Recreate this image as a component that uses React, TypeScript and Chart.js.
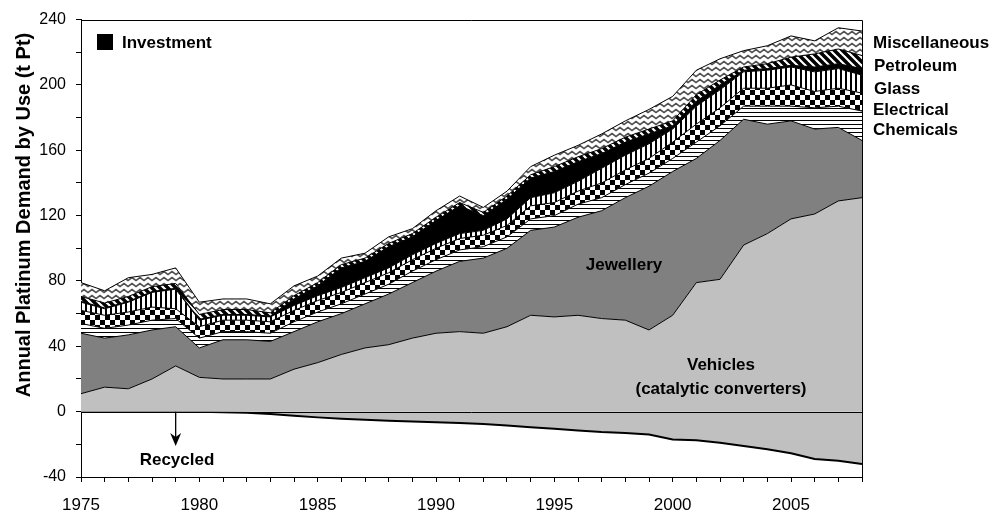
import React, { useEffect, useRef } from 'react';
import { Chart, registerables } from 'chart.js';

Chart.register(...registerables);

const years = [1975,1976,1977,1978,1979,1980,1981,1982,1983,1984,1985,1986,1987,1988,1989,1990,1991,1992,1993,1994,1995,1996,1997,1998,1999,2000,2001,2002,2003,2004,2005,2006,2007,2008];
const tickYears = [1975,1980,1985,1990,1995,2000,2005];
const yLabelValues = [-40,0,40,80,120,160,200,240];

const vehicles = [11,15,14,20,28,21,20,20,20,26,30,35,39,41,45,48,49,48,52,59,58,59,57,56,50,59,79,81,102,109,118,121,129,131];
const jewellery = [37,30,33,30,24,18,24,24,23,23,25,25,27,31,34,38,43,46,48,52,55,60,66,75,88,88,76,85,77,67,60,52,45,35];
const chemicals = [6,6,6,6,5,6,5,5,5,6,6,6,6,6,7,7,7,7,7,7,7,8,8,8,8,8,10,9,8,11,9,13,13,18];
const electrical = [8,8,8,8,6,7,7,7,7,7,7,7,7,7,7,7,7,7,7,8,8,8,9,9,9,10,11,11,11,11,13,10,11,11];
const glass = [5,4,6,9,12,4,3,3,3,3,3,3,3,3,3,3,3,3,4,5,6,6,9,9,9,8,11,11,10,11,11,12,12,11];
const investment = [0.5,0.5,0.5,0.5,0.5,0.5,0.5,0.5,0.5,4,6,12,10,13,11,14,17,9,12,12,13,12,9,8,6,2,3,3,1,1,1,3,3,4];
const petroleum = [3,3,3,3,3,3,3,3,2,2,2,2,2,2,2,2,2,2,2,2,3,3,3,3,3,3,4,3,2,3,5,8,9,8];
const miscellaneous = [8.5,7.5,11.5,7.5,9.5,7.5,6.5,6.5,5.5,6,4,4,3,4,3,4,4,3,3,5,7,7,9,10,12,15,15,13,10,11,13,8,13,15];
const recycled = [0,0,0,0,0,0,-0.3,-0.7,-1.5,-2.5,-3.5,-4.3,-5,-5.5,-6,-6.5,-7,-7.5,-8.5,-9.5,-10.5,-11.5,-12.5,-13,-14,-17,-17.5,-19,-21,-23,-25.5,-29,-30,-32];

const FONT = '"Liberation Sans", Arial, Helvetica, sans-serif';

function makePattern(kind: string): CanvasPattern | string {
  const c = document.createElement('canvas');
  const g = c.getContext('2d');
  if (!g) return '#fff';
  if (kind === 'hlines') {
    c.width = 4; c.height = 4;
    g.fillStyle = '#fff'; g.fillRect(0, 0, 4, 4);
    g.fillStyle = '#000'; g.fillRect(0, 0, 4, 1);
  } else if (kind === 'checker') {
    c.width = 10; c.height = 10;
    g.fillStyle = '#fff'; g.fillRect(0, 0, 10, 10);
    g.fillStyle = '#000'; g.fillRect(0, 0, 5, 5); g.fillRect(5, 5, 5, 5);
  } else if (kind === 'vlines') {
    c.width = 5; c.height = 5;
    g.fillStyle = '#fff'; g.fillRect(0, 0, 5, 5);
    g.fillStyle = '#000'; g.fillRect(0, 0, 2, 5);
  } else if (kind === 'diag') {
    c.width = 8; c.height = 8;
    g.fillStyle = '#fff'; g.fillRect(0, 0, 8, 8);
    g.strokeStyle = '#000'; g.lineWidth = 3.5;
    for (const o of [-8, 0, 8]) {
      g.beginPath(); g.moveTo(o - 1, -1); g.lineTo(o + 9, 9); g.stroke();
    }
  } else if (kind === 'zigzag') {
    c.width = 8; c.height = 6;
    g.fillStyle = '#fff'; g.fillRect(0, 0, 8, 6);
    g.strokeStyle = '#505050'; g.lineWidth = 1.6;
    g.beginPath(); g.moveTo(-2, 3); g.lineTo(0, 4.5); g.lineTo(4, 1.5); g.lineTo(8, 4.5); g.lineTo(10, 3); g.stroke();
  }
  const p = g.createPattern(c, 'repeat');
  return p || '#fff';
}

const annotations = {
  id: 'annotations',
  afterDatasetsDraw(chart: any) {
    const { ctx, chartArea: a, scales } = chart;
    const y0 = scales.y.getPixelForValue(0);
    ctx.save();
    ctx.strokeStyle = '#000';
    ctx.lineWidth = 1;
    ctx.beginPath();
    ctx.moveTo(a.left, Math.round(y0) + 0.5);
    ctx.lineTo(a.right, Math.round(y0) + 0.5);
    ctx.stroke();
    ctx.beginPath();
    ctx.moveTo(a.left, Math.round(a.top) + 0.5);
    ctx.lineTo(Math.round(a.right) + 0.5, Math.round(a.top) + 0.5);
    ctx.lineTo(Math.round(a.right) + 0.5, a.bottom);
    ctx.stroke();

    ctx.fillStyle = '#000';
    ctx.textBaseline = 'middle';
    ctx.font = 'bold 17px ' + FONT;
    ctx.textAlign = 'left';
    ctx.fillText('Miscellaneous', 873, 43);
    ctx.fillText('Petroleum', 874, 66);
    ctx.fillText('Glass', 874, 89);
    ctx.fillText('Electrical', 873, 110);
    ctx.fillText('Chemicals', 873, 130);

    ctx.fillRect(97, 34, 16, 16);
    ctx.fillText('Investment', 122, 43);

    ctx.textAlign = 'center';
    ctx.fillText('Jewellery', 624, 265);
    ctx.fillText('Vehicles', 721, 365);
    ctx.fillText('(catalytic converters)', 721, 389);
    ctx.fillText('Recycled', 177, 460);

    const ax = scales.x.getPixelForValue(4);
    ctx.lineWidth = 1.3;
    ctx.beginPath();
    ctx.moveTo(ax, y0);
    ctx.lineTo(ax, 440);
    ctx.stroke();
    ctx.beginPath();
    ctx.moveTo(ax, 446);
    ctx.lineTo(ax - 5.5, 433);
    ctx.lineTo(ax, 437);
    ctx.lineTo(ax + 5.5, 433);
    ctx.closePath();
    ctx.fill();

    ctx.translate(24, 215);
    ctx.rotate(-Math.PI / 2);
    ctx.font = 'bold 20px ' + FONT;
    ctx.textAlign = 'center';
    ctx.fillText('Annual Platinum Demand by Use (t Pt)', 0, 0);
    ctx.restore();
  },
};

export default function App() {
  const ref = useRef<HTMLCanvasElement>(null);
  useEffect(() => {
    if (!ref.current) return;
    const base = { borderColor: '#000', borderWidth: 1, pointRadius: 0, tension: 0 };
    const chart = new Chart(ref.current, {
      type: 'line',
      data: {
        labels: years.map(String),
        datasets: [
          { ...base, label: 'Vehicles', data: vehicles, backgroundColor: '#c0c0c0', fill: 'origin' },
          { ...base, label: 'Jewellery', data: jewellery, backgroundColor: '#808080', fill: '-1' },
          { ...base, label: 'Chemicals', data: chemicals, backgroundColor: makePattern('hlines'), fill: '-1' },
          { ...base, label: 'Electrical', data: electrical, backgroundColor: makePattern('checker'), fill: '-1' },
          { ...base, label: 'Glass', data: glass, backgroundColor: makePattern('vlines'), fill: '-1' },
          { ...base, label: 'Investment', data: investment, backgroundColor: '#000', fill: '-1' },
          { ...base, label: 'Petroleum', data: petroleum, backgroundColor: makePattern('diag'), fill: '-1' },
          { ...base, label: 'Miscellaneous', data: miscellaneous, backgroundColor: makePattern('zigzag'), fill: '-1' },
          { ...base, label: 'Recycled', data: recycled, backgroundColor: '#c0c0c0', borderWidth: 2, fill: 'origin', stack: 'recycled' } as any,
        ] as any,
      },
      options: {
        responsive: false,
        animation: false,
        devicePixelRatio: 1,
        layout: { padding: { top: 17, right: 132, left: 0, bottom: 0 } },
        font: { family: FONT },
        plugins: { legend: { display: false }, tooltip: { enabled: false } },
        scales: {
          x: {
            type: 'category',
            offset: false,
            grid: { drawOnChartArea: false, offset: false, tickLength: 5, color: '#000', tickColor: '#000' },
            border: { color: '#000', width: 1 },
            ticks: {
              autoSkip: false,
              maxRotation: 0,
              padding: 13,
              color: '#000',
              font: { family: FONT, size: 17 },
              callback: (_v: any, i: number) => (tickYears.includes(years[i]) ? String(years[i]) : ''),
            },
            afterFit: (s: any) => { s.height = 39; },
          },
          y: {
            stacked: true,
            min: -40,
            max: 240,
            grid: { drawOnChartArea: false, tickLength: 5, color: '#000', tickColor: '#000' },
            border: { color: '#000', width: 1 },
            ticks: {
              stepSize: 20,
              autoSkip: false,
              padding: 10,
              color: '#000',
              font: { family: FONT, size: 16 },
              callback: (v: any) => (yLabelValues.includes(Number(v)) ? String(v) : ''),
            },
            afterFit: (s: any) => { s.width = 81; },
          },
        },
      } as any,
      plugins: [annotations],
    });
    return () => chart.destroy();
  }, []);
  return (
    <div style={{ position: 'fixed', left: 0, top: 0, width: 994, height: 516, background: '#fff' }}>
      <canvas ref={ref} width={994} height={516} style={{ display: 'block' }} />
    </div>
  );
}
